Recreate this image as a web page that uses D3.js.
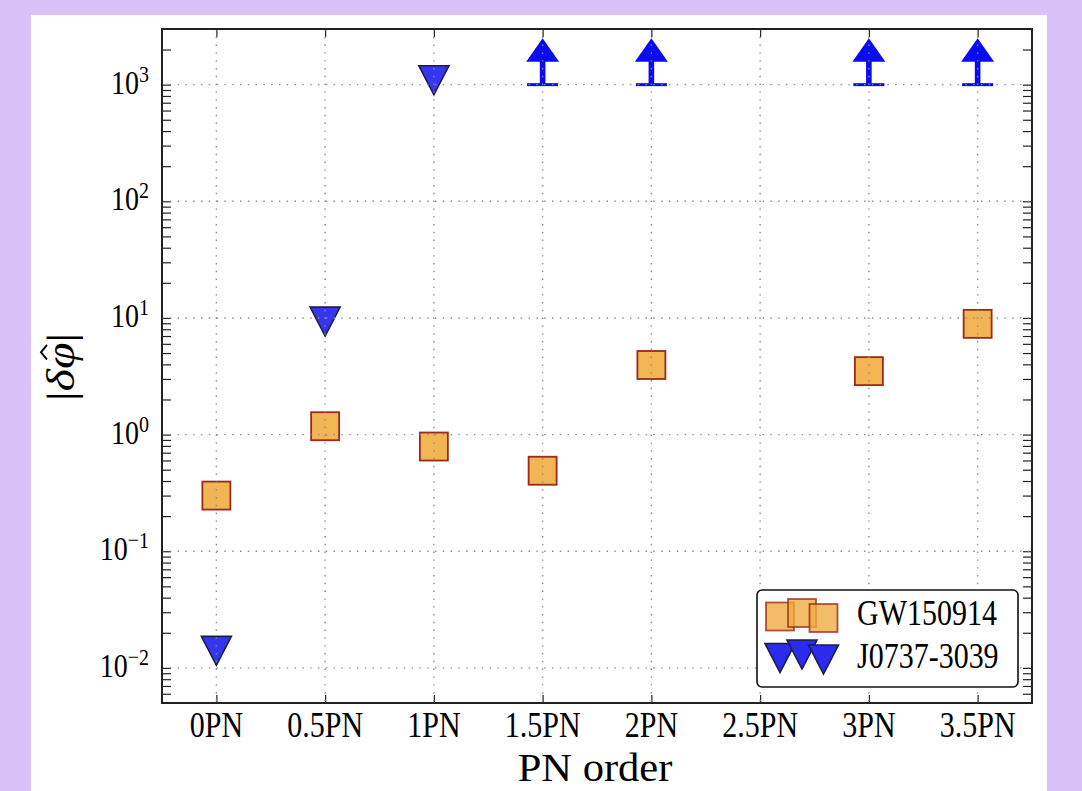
<!DOCTYPE html>
<html>
<head>
<meta charset="utf-8">
<script src="https://cdn.jsdelivr.net/npm/d3@7"></script>
<style>
  html, body { margin: 0; padding: 0; background: #d9c2f7; }
  svg { display: block; }
</style>
</head>
<body>
<div id="chart"></div>
<script>
'use strict';

// PN orders on the x axis
const orders = ["0PN", "0.5PN", "1PN", "1.5PN", "2PN", "2.5PN", "3PN", "3.5PN"];

// GW150914 bounds (squares)
const gwOrders = ["0PN", "0.5PN", "1PN", "1.5PN", "2PN", "3PN", "3.5PN"];
const gwValues = [0.30, 1.18, 0.79, 0.49, 3.95, 3.5, 8.9];

// J0737-3039 bounds (triangles)
const psrOrders = ["0PN", "0.5PN", "1PN"];
const psrValues = [0.014, 9.3, 1090];

// J0737-3039 lower limits drawn as arrows
const limOrders = ["1.5PN", "2PN", "3PN", "3.5PN"];
const limValues = [1000, 1000, 1000, 1000];

const yMajor = [1e-2, 1e-1, 1e0, 1e1, 1e2, 1e3];
const yExp = ["\u22122", "\u22121", "0", "1", "2", "3"];

const legendLabels = ["GW150914", "J0737-3039"];

const W = 1082, H = 791;
const pl = 162, pr = 1032, pt = 29, pb = 703;
const serif = "'Liberation Serif', 'Times New Roman', serif";
const stretch = 1.2;   // the source picture is a bit taller than wide

const svg = d3.select('#chart').append('svg')
  .attr('width', W).attr('height', H);

svg.append('rect')
  .attr('x', 0).attr('y', 0).attr('width', W).attr('height', H)
  .style('fill', '#d9c2f7');
svg.append('rect')
  .attr('x', 31).attr('y', 15).attr('width', 1016).attr('height', H - 15)
  .style('fill', 'white');

const x = d3.scalePoint().domain(orders).range([pl, pr]).padding(0.5);
const y = d3.scaleLog().domain([0.005, 3000]).range([pb, pt]);

// minor ticks for the log axis
let yMinor = [];
for (let e = -3; e <= 3; e++) {
  for (let m = 2; m <= 9; m++) {
    const v = m * Math.pow(10, e);
    if (v > 0.005 && v < 3000) yMinor.push(v);
  }
}

const tickStyle = g => {
  g.select('.domain').remove();
  g.selectAll('line').style('stroke', '#222').style('stroke-width', 1.2);
};

// ticks pointing inward on all four sides
svg.append('g').attr('transform', `translate(${pl},0)`)
  .call(d3.axisLeft(y).tickValues(yMajor.concat(yMinor)).tickSize(-9).tickFormat(''))
  .call(tickStyle);
svg.append('g').attr('transform', `translate(${pr},0)`)
  .call(d3.axisRight(y).tickValues(yMajor.concat(yMinor)).tickSize(-9).tickFormat(''))
  .call(tickStyle);
svg.append('g').attr('transform', `translate(0,${pb})`)
  .call(d3.axisBottom(x).tickSize(-8).tickFormat(''))
  .call(tickStyle);
svg.append('g').attr('transform', `translate(0,${pt})`)
  .call(d3.axisTop(x).tickSize(-8).tickFormat(''))
  .call(tickStyle);

// GW150914 squares
const sq = 28;
svg.append('g').selectAll('rect')
  .data(gwValues)
  .enter()
  .append('rect')
  .attr('x', (d, i) => x(gwOrders[i]) - sq / 2)
  .attr('y', d => y(d) - sq / 2)
  .attr('width', sq).attr('height', sq)
  .style('fill', '#efad40').style('fill-opacity', 0.9)
  .style('stroke', '#9a2a1a').style('stroke-width', 1.8);

// J0737-3039 triangles
const tri = 'M -15 -14.5 L 15 -14.5 L 0 14.5 Z';
svg.append('g').selectAll('path')
  .data(psrValues)
  .enter()
  .append('path')
  .attr('d', tri)
  .attr('transform', (d, i) => `translate(${x(psrOrders[i])},${y(d)})`)
  .style('fill', '#2b2bf0').style('fill-opacity', 0.95)
  .style('stroke', '#1c1c48').style('stroke-width', 1.6);

// lower limit arrows
const arrows = svg.append('g').selectAll('g')
  .data(limValues)
  .enter()
  .append('g')
  .attr('transform', (d, i) => `translate(${x(limOrders[i])},${y(d)})`);
arrows.append('line')
  .attr('x1', -15.5).attr('x2', 15.5).attr('y1', 0).attr('y2', 0)
  .style('stroke', '#0a0af5').style('stroke-width', 3);
arrows.append('rect')
  .attr('x', -2.8).attr('y', -24).attr('width', 5.6).attr('height', 24)
  .style('fill', '#0a0af5');
arrows.append('path')
  .attr('d', 'M -16.5 -23 L 16.5 -23 L 0 -46.5 Z')
  .style('fill', '#0a0af5');

// dotted grid on top of the markers
const grid = svg.append('g')
  .style('stroke', '#8c8c8c').style('stroke-width', 1.4)
  .style('stroke-dasharray', '1.4,6.4');
grid.selectAll('.gx')
  .data(orders)
  .enter()
  .append('line')
  .attr('x1', d => x(d)).attr('x2', d => x(d))
  .attr('y1', pt).attr('y2', pb);
grid.selectAll('.gy')
  .data(yMajor)
  .enter()
  .append('line')
  .attr('x1', pl).attr('x2', pr)
  .attr('y1', d => y(d)).attr('y2', d => y(d));

// frame
svg.append('rect')
  .attr('x', pl).attr('y', pt)
  .attr('width', pr - pl).attr('height', pb - pt)
  .style('fill', 'none').style('stroke', '#222').style('stroke-width', 2);

// x tick labels
svg.append('g').selectAll('text')
  .data(orders)
  .enter()
  .append('text')
  .attr('transform', d => `translate(${x(d)},737) scale(1,${stretch})`)
  .attr('text-anchor', 'middle')
  .style('font-family', serif).style('font-size', '30px')
  .text(d => d);

// y tick labels as 10^n
const ylab = svg.append('g').selectAll('text')
  .data(yMajor)
  .enter()
  .append('text')
  .attr('transform', d => `translate(149,${y(d) + 9}) scale(1,${stretch})`)
  .attr('text-anchor', 'end')
  .style('font-family', serif).style('font-size', '28px');
ylab.append('tspan').text('10');
ylab.append('tspan')
  .attr('dy', -10)
  .style('font-size', '20px')
  .text((d, i) => yExp[i]);

// axis titles
svg.append('text')
  .attr('transform', 'translate(595,781) scale(1.05,1)')
  .attr('text-anchor', 'middle')
  .style('font-family', serif).style('font-size', '40.5px')
  .text('PN order');

const yt = svg.append('g')
  .attr('transform', `translate(74,367) scale(1,${stretch}) rotate(-90)`);
const ytitle = yt.append('text')
  .attr('text-anchor', 'middle')
  .style('font-family', serif).style('font-size', '40px');
ytitle.append('tspan').text('|');
ytitle.append('tspan').style('font-style', 'italic').text('\u03b4\u03c6');
ytitle.append('tspan').text('|');
// hat over the phi
const tn = ytitle.node();
const p0 = tn.getStartPositionOfChar(2).x, p1 = tn.getEndPositionOfChar(2).x;
const hc = (p0 + p1) / 2 + 3;
yt.append('path')
  .attr('d', `M ${hc - 6} -27 L ${hc} -33 L ${hc + 6} -27`)
  .style('fill', 'none').style('stroke', 'black').style('stroke-width', 1.8);

// legend
const lg = svg.append('g');
lg.append('rect')
  .attr('x', 757).attr('y', 590).attr('width', 261).attr('height', 97)
  .attr('rx', 5).attr('ry', 5)
  .style('fill', 'white').style('stroke', '#111').style('stroke-width', 1.6);

const lgX = [780, 802, 823.5];
const lgDy = [0.5, -3, 2];
lg.selectAll('.lsq')
  .data(lgX)
  .enter()
  .append('rect')
  .attr('x', (d) => d - sq / 2)
  .attr('y', (d, i) => 616 + lgDy[i] - sq / 2)
  .attr('width', sq).attr('height', sq)
  .style('fill', '#efad40').style('fill-opacity', 0.8)
  .style('stroke', '#9a2a1a').style('stroke-opacity', 0.8).style('stroke-width', 1.8);
lg.selectAll('.ltri')
  .data(lgX)
  .enter()
  .append('path')
  .attr('d', tri)
  .attr('transform', (d, i) => `translate(${d},${657.5 + lgDy[i]})`)
  .style('fill', '#2b2bf0')
  .style('stroke', '#1c1c48').style('stroke-width', 1.6);

lg.selectAll('text')
  .data(legendLabels)
  .enter()
  .append('text')
  .attr('transform', (d, i) => `translate(857,${625 + i * 43}) scale(1,${stretch})`)
  .style('font-family', serif).style('font-size', '30px')
  .text(d => d);
</script>
</body>
</html>
